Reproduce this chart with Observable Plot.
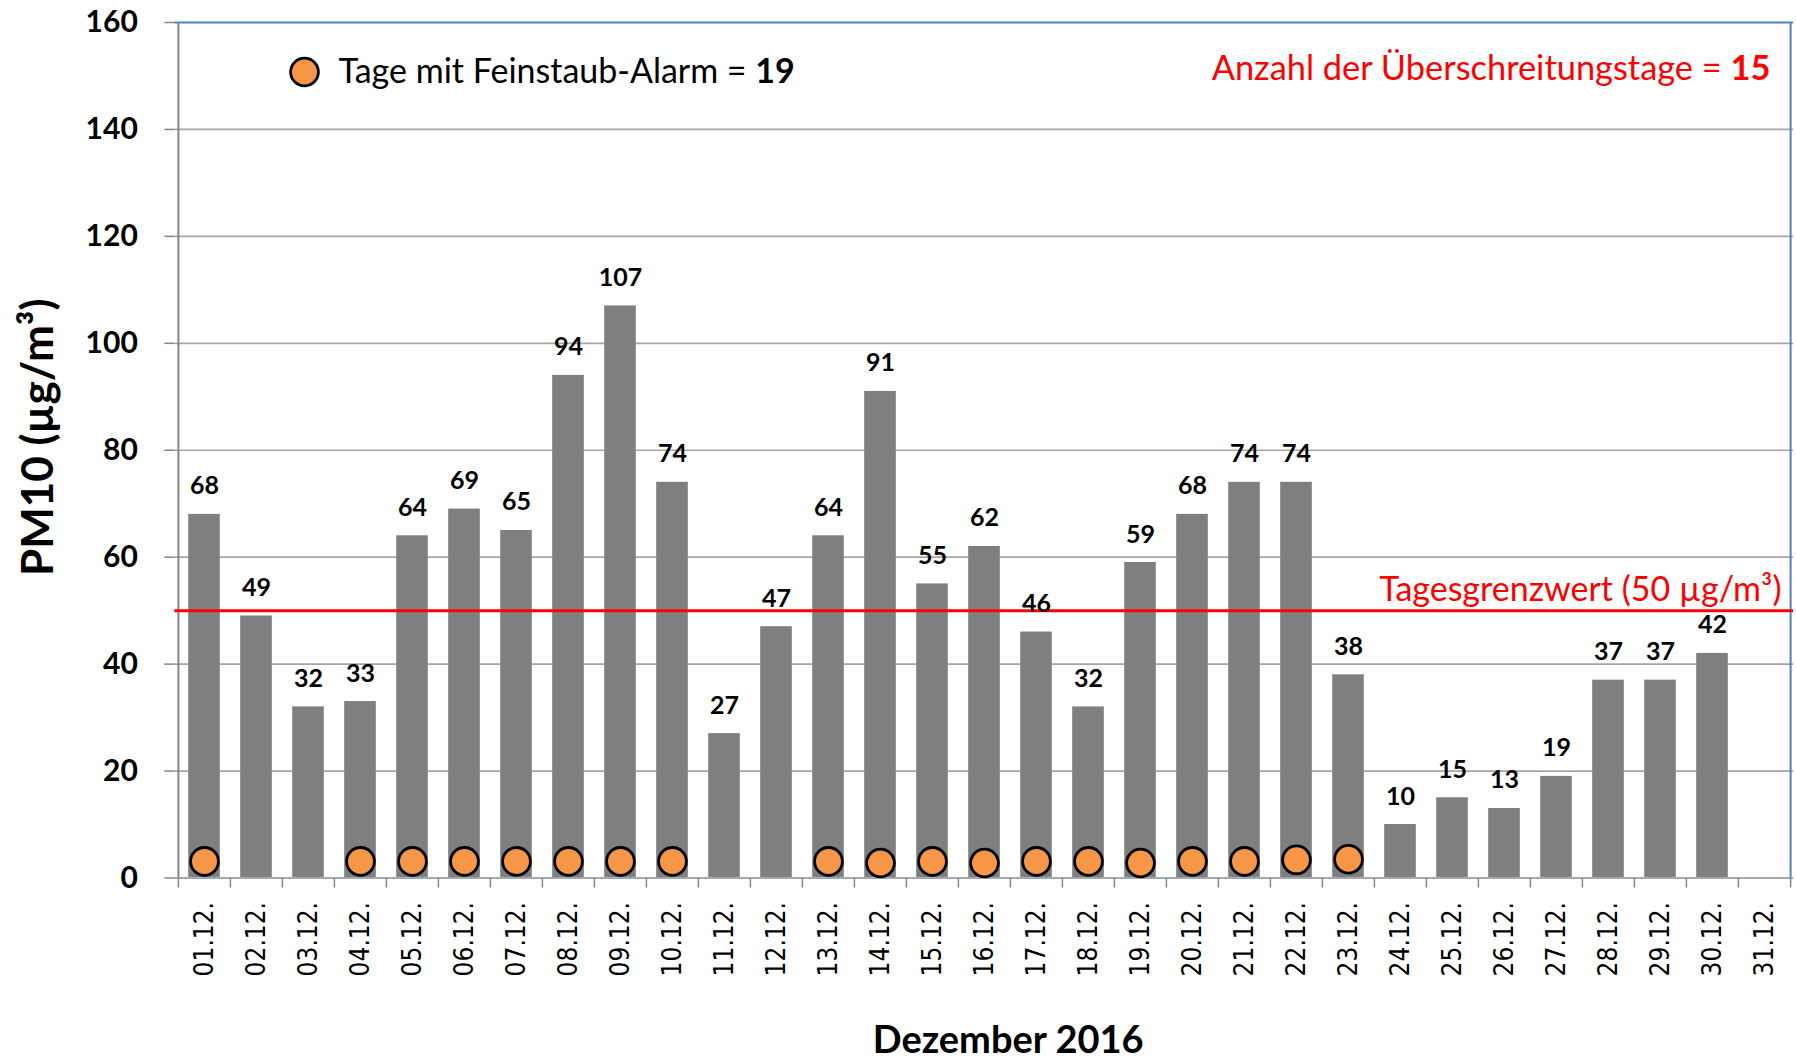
<!DOCTYPE html>
<html>
<head>
<meta charset="utf-8">
<script src="https://cdn.jsdelivr.net/npm/d3@7"></script>
<script src="https://cdn.jsdelivr.net/npm/@observablehq/plot@0.6"></script>
<style>
  html, body { margin: 0; padding: 0; background: #fff; overflow: hidden; }
  #chart { width: 1796px; height: 1061px; }
</style>
</head>
<body>
<div id="chart"></div>
<script>
// ---- data ----
const days = ["01.12.","02.12.","03.12.","04.12.","05.12.","06.12.","07.12.","08.12.","09.12.","10.12.",
  "11.12.","12.12.","13.12.","14.12.","15.12.","16.12.","17.12.","18.12.","19.12.","20.12.",
  "21.12.","22.12.","23.12.","24.12.","25.12.","26.12.","27.12.","28.12.","29.12.","30.12.","31.12."];
const pm10 = [68,49,32,33,64,69,65,94,107,74,27,47,64,91,55,62,46,32,59,68,74,74,38,10,15,13,19,37,37,42,null];
const alarmDays = ["01.12.","04.12.","05.12.","06.12.","07.12.","08.12.","09.12.","10.12.","13.12.","14.12.",
  "15.12.","16.12.","17.12.","18.12.","19.12.","20.12.","21.12.","22.12.","23.12."];
const alarmMarkY = [3.1,3.1,3.1,3.1,3.1,3.1,3.1,3.1,3.1,2.8,3.1,2.8,3.1,3.1,2.8,3.1,3.1,3.4,3.5];
const yTicks = [0,20,40,60,80,100,120,140,160];
const gridValues = [20,40,60,80,100,120,140];
const limitValue = 50;
const limitLabel = "Tagesgrenzwert (50 µg/m³)";
const exceedLabel = "Anzahl der Überschreitungstage = 15";
const alarmLabel = "Tage mit Feinstaub-Alarm = 19";
const yLabel = "PM10 (µg/m³)";
const xLabel = "Dezember 2016";

// ---- tables ----
const bars = days.map((d, i) => ({day: d, v: pm10[i]})).filter(d => d.v != null);
const alarms = alarmDays.map((d, i) => ({day: d, y: alarmMarkY[i]}));

// ---- layout ----
const W = 1796, H = 1061, ML = 174.3, MR = 3, MT = 22, MB = 183.5;
const step = (W - ML - MR) / days.length;
const barInset = 10.2;

const grey = "#868686";
const orange = "#F79646";
const blue = "#4F81BD";

const plot = Plot.plot({
  width: W, height: H,
  marginLeft: ML, marginRight: MR, marginTop: MT, marginBottom: MB,
  style: {fontFamily: "Lato, sans-serif", background: "#fff", color: "#000", overflow: "visible"},
  x: {type: "band", domain: days, padding: 0},
  y: {domain: [0, 160]},
  marks: [
    Plot.ruleY(gridValues, {stroke: "#A6A6A6", strokeWidth: 1.7}),
    Plot.ruleY([160], {stroke: blue, strokeWidth: 2}),
    Plot.barY(bars, {x: "day", y: "v", fill: "#7F7F7F", insetLeft: barInset, insetRight: barInset}),
    Plot.ruleY([0], {stroke: "#A0A8B4", strokeWidth: 2}),
    Plot.ruleX([days[0]], {x: d => d, y1: 0, y2: 160, dx: -step / 2, stroke: grey, strokeWidth: 2}),
    Plot.ruleX([days[days.length - 1]], {x: d => d, y1: 0, y2: 160, dx: step / 2, stroke: blue, strokeWidth: 2}),
    Plot.ruleY([limitValue], {stroke: "#FF0000", strokeWidth: 3}),
    // boundary ticks on x
    Plot.axisX(days, {tickSize: 10, tickFormat: () => "", dx: -step / 2, stroke: grey, strokeWidth: 1.5, label: null}),
    Plot.axisX([days[days.length - 1]], {tickSize: 10, tickFormat: () => "", dx: step / 2, stroke: grey, strokeWidth: 1.5, label: null}),
    // x tick labels
    Plot.axisX({tickSize: 0, tickPadding: 24, tickRotate: -90, fontSize: 26,
      fontFamily: "'DejaVu Sans Condensed', 'DejaVu Sans', sans-serif", label: null}),
    // y axis
    Plot.axisY(yTicks, {tickSize: 10, tickPadding: 27, fontSize: 30, fontWeight: "bold",
      stroke: grey, strokeWidth: 1.5, label: null}),
    // value labels
    Plot.text(bars, {x: "day", y: "v", text: d => String(d.v), dy: -20, lineAnchor: "bottom",
      fontSize: 25, fontWeight: "bold", fill: "#000"}),
    // alarm dots
    Plot.dot(alarms, {x: "day", y: "y", r: 13.9, fill: orange, stroke: "#000", strokeWidth: 2.8}),
    // legend
    Plot.dot([alarmLabel], {frameAnchor: "top-left", dx: 129.7, dy: 49.5, r: 13.9, fill: orange, stroke: "#000", strokeWidth: 2.8}),
    Plot.text([alarmLabel], {frameAnchor: "top-left", dx: 163.7, dy: 60, text: d => d,
      textAnchor: "start", lineAnchor: "bottom", fontSize: 34, fill: "#000"}),
    Plot.text([exceedLabel], {frameAnchor: "top-right", dx: -23, dy: 57, text: d => d,
      textAnchor: "end", lineAnchor: "bottom", fontSize: 34.4, fill: "#FF0000"}),
    Plot.text([{t: limitLabel, v: limitValue}], {y: "v", frameAnchor: "right", dx: -12, dy: -10, text: "t",
      textAnchor: "end", lineAnchor: "bottom", fontSize: 34, fill: "#FF0000"}),
    // axis titles
    Plot.text([yLabel], {frameAnchor: "left", rotate: -90, dx: -136, dy: -13, text: d => d,
      textAnchor: "middle", lineAnchor: "middle", fontSize: 44, fontWeight: "bold", fill: "#000"}),
    Plot.text([xLabel], {frameAnchor: "bottom", dx: 24, dy: 162.5, text: d => d,
      textAnchor: "middle", lineAnchor: "middle", fontSize: 38, fontWeight: "bold", fill: "#000"})
  ]
});

// bold trailing counts in the annotation texts
d3.select(plot).selectAll("text").each(function () {
  const s = this.textContent;
  const m = s.match(/^(.*= )(\d+)$/);
  if (m && this.childElementCount === 0) {
    const el = d3.select(this);
    el.text(null);
    el.append("tspan").text(m[1]);
    el.append("tspan").attr("font-weight", "bold").text(m[2]);
  }
});

document.getElementById("chart").appendChild(plot);
</script>
</body>
</html>
